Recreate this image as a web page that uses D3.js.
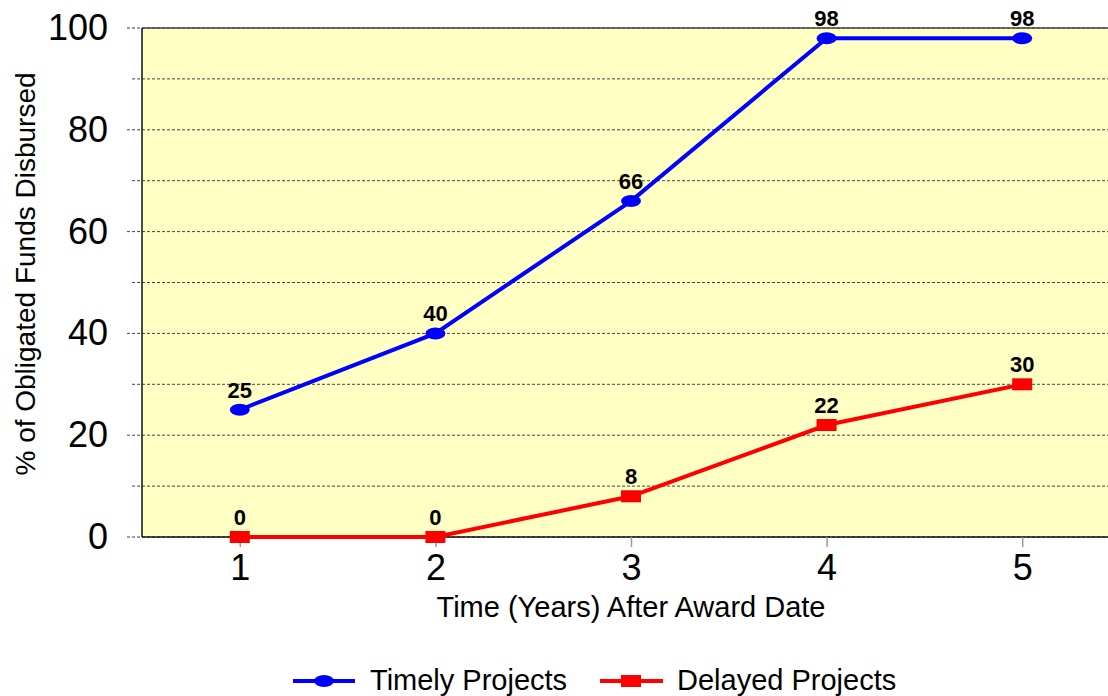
<!DOCTYPE html>
<html>
<head>
<meta charset="utf-8">
<script src="https://cdn.jsdelivr.net/npm/d3@7"></script>
<style>
  body { margin: 0; background: #fff; }
  text { font-family: "Liberation Sans", Arial, sans-serif; }
</style>
</head>
<body>
<div id="chart"></div>
<script>
  // data
  var years = [1, 2, 3, 4, 5];
  var timely = [25, 40, 66, 98, 98];
  var delayed = [0, 0, 8, 22, 30];
  var yTicks = [0, 20, 40, 60, 80, 100];
  var yMinor = [10, 30, 50, 70, 90];
  var seriesNames = ["Timely Projects", "Delayed Projects"];

  var W = 1108, H = 696;
  var margin = {top: 28, right: -12, bottom: 159, left: 142},
      width = W - margin.left - margin.right,
      height = H - margin.top - margin.bottom;

  var svg = d3.select("#chart")
    .append("svg")
      .attr("width", W)
      .attr("height", H);

  var g = svg.append("g")
      .attr("transform", "translate(" + margin.left + "," + margin.top + ")");

  var x = d3.scaleLinear()
      .domain([0.5, 5.5])
      .range([0, width]);
  var y = d3.scaleLinear()
      .domain([0, 100])
      .range([height, 0]);

  // plot background
  g.append("rect")
    .attr("width", width)
    .attr("height", height)
    .style("fill", "#ffffc4");

  // gridlines, major and minor, dashed, poking out to the left as ticks
  g.selectAll(".major")
    .data(yTicks)
    .enter().append("line")
      .attr("x1", -15).attr("x2", width)
      .attr("y1", d => y(d)).attr("y2", d => y(d))
      .style("stroke", "#444")
      .style("stroke-width", 1)
      .style("stroke-dasharray", "3,2");
  g.selectAll(".minor")
    .data(yMinor)
    .enter().append("line")
      .attr("x1", -10).attr("x2", width)
      .attr("y1", d => y(d)).attr("y2", d => y(d))
      .style("stroke", "#444")
      .style("stroke-width", 1)
      .style("stroke-dasharray", "3,2");

  // frame
  g.append("line").attr("x1", 0).attr("x2", width).attr("y1", 0).attr("y2", 0)
    .style("stroke", "#444").style("stroke-width", 1.5);
  g.append("line").attr("x1", 0).attr("x2", width).attr("y1", height).attr("y2", height)
    .style("stroke", "#111").style("stroke-width", 1.5);
  g.append("line").attr("x1", 0).attr("x2", 0).attr("y1", 0).attr("y2", height)
    .style("stroke", "#111").style("stroke-width", 1.5);

  // y axis labels
  var yAxis = g.append("g")
    .attr("transform", "translate(-34,0)")
    .call(d3.axisLeft(y).tickValues(yTicks).tickSize(0).tickPadding(0));
  yAxis.select(".domain").remove();
  yAxis.selectAll("text")
    .style("font-size", "36px")
    .style("fill", "#000")
    .style("font-family", "Liberation Sans, Arial, sans-serif");

  // x axis
  var xAxis = g.append("g")
    .attr("transform", "translate(0," + height + ")")
    .call(d3.axisBottom(x).tickValues(years).tickFormat(d3.format("d")).tickSize(10).tickPadding(7));
  xAxis.select(".domain").remove();
  xAxis.selectAll("line").style("stroke", "#999").style("stroke-width", 1.5);
  xAxis.selectAll("text")
    .style("font-size", "36px")
    .style("fill", "#000")
    .style("font-family", "Liberation Sans, Arial, sans-serif");

  // axis titles
  svg.append("text")
    .attr("x", 631).attr("y", 617)
    .attr("text-anchor", "middle")
    .style("font-size", "29px")
    .text("Time (Years) After Award Date");
  svg.append("text")
    .attr("transform", "translate(35,274) rotate(-90)")
    .attr("text-anchor", "middle")
    .style("font-size", "28px")
    .text("% of Obligated Funds Disbursed");

  var line = d3.line()
    .x((d, i) => x(years[i]))
    .y(d => y(d));

  // timely series
  g.append("path")
    .datum(timely)
    .attr("d", line)
    .style("fill", "none")
    .style("stroke", "#0000ff")
    .style("stroke-width", 4);
  g.selectAll(".dotT")
    .data(timely)
    .enter().append("ellipse")
      .attr("cx", (d, i) => x(years[i]))
      .attr("cy", d => y(d))
      .attr("rx", 10).attr("ry", 6)
      .style("fill", "#0000ff");
  g.selectAll(".lblT")
    .data(timely)
    .enter().append("text")
      .attr("x", (d, i) => x(years[i]))
      .attr("y", d => y(d) - 12)
      .attr("text-anchor", "middle")
      .style("font-size", "22px")
      .style("font-weight", "bold")
      .text(d => d);

  // delayed series
  g.append("path")
    .datum(delayed)
    .attr("d", line)
    .style("fill", "none")
    .style("stroke", "#ff0000")
    .style("stroke-width", 4);
  g.selectAll(".dotD")
    .data(delayed)
    .enter().append("rect")
      .attr("x", (d, i) => x(years[i]) - 10)
      .attr("y", d => y(d) - 6)
      .attr("width", 20).attr("height", 12)
      .style("fill", "#ff0000");
  g.selectAll(".lblD")
    .data(delayed)
    .enter().append("text")
      .attr("x", (d, i) => x(years[i]))
      .attr("y", d => y(d) - 12)
      .attr("text-anchor", "middle")
      .style("font-size", "22px")
      .style("font-weight", "bold")
      .text(d => d);

  // legend
  var leg = svg.append("g");
  leg.append("line").attr("x1", 293).attr("x2", 355).attr("y1", 681).attr("y2", 681)
    .style("stroke", "#0000ff").style("stroke-width", 4);
  leg.append("ellipse").attr("cx", 324).attr("cy", 681).attr("rx", 10).attr("ry", 6)
    .style("fill", "#0000ff");
  leg.append("text").attr("x", 370).attr("y", 690)
    .style("font-size", "29px").text(seriesNames[0]);

  leg.append("line").attr("x1", 600).attr("x2", 663).attr("y1", 681).attr("y2", 681)
    .style("stroke", "#ff0000").style("stroke-width", 4);
  leg.append("rect").attr("x", 621).attr("y", 675).attr("width", 20).attr("height", 12)
    .style("fill", "#ff0000");
  leg.append("text").attr("x", 677).attr("y", 690)
    .style("font-size", "29px").text(seriesNames[1]);
</script>
</body>
</html>
